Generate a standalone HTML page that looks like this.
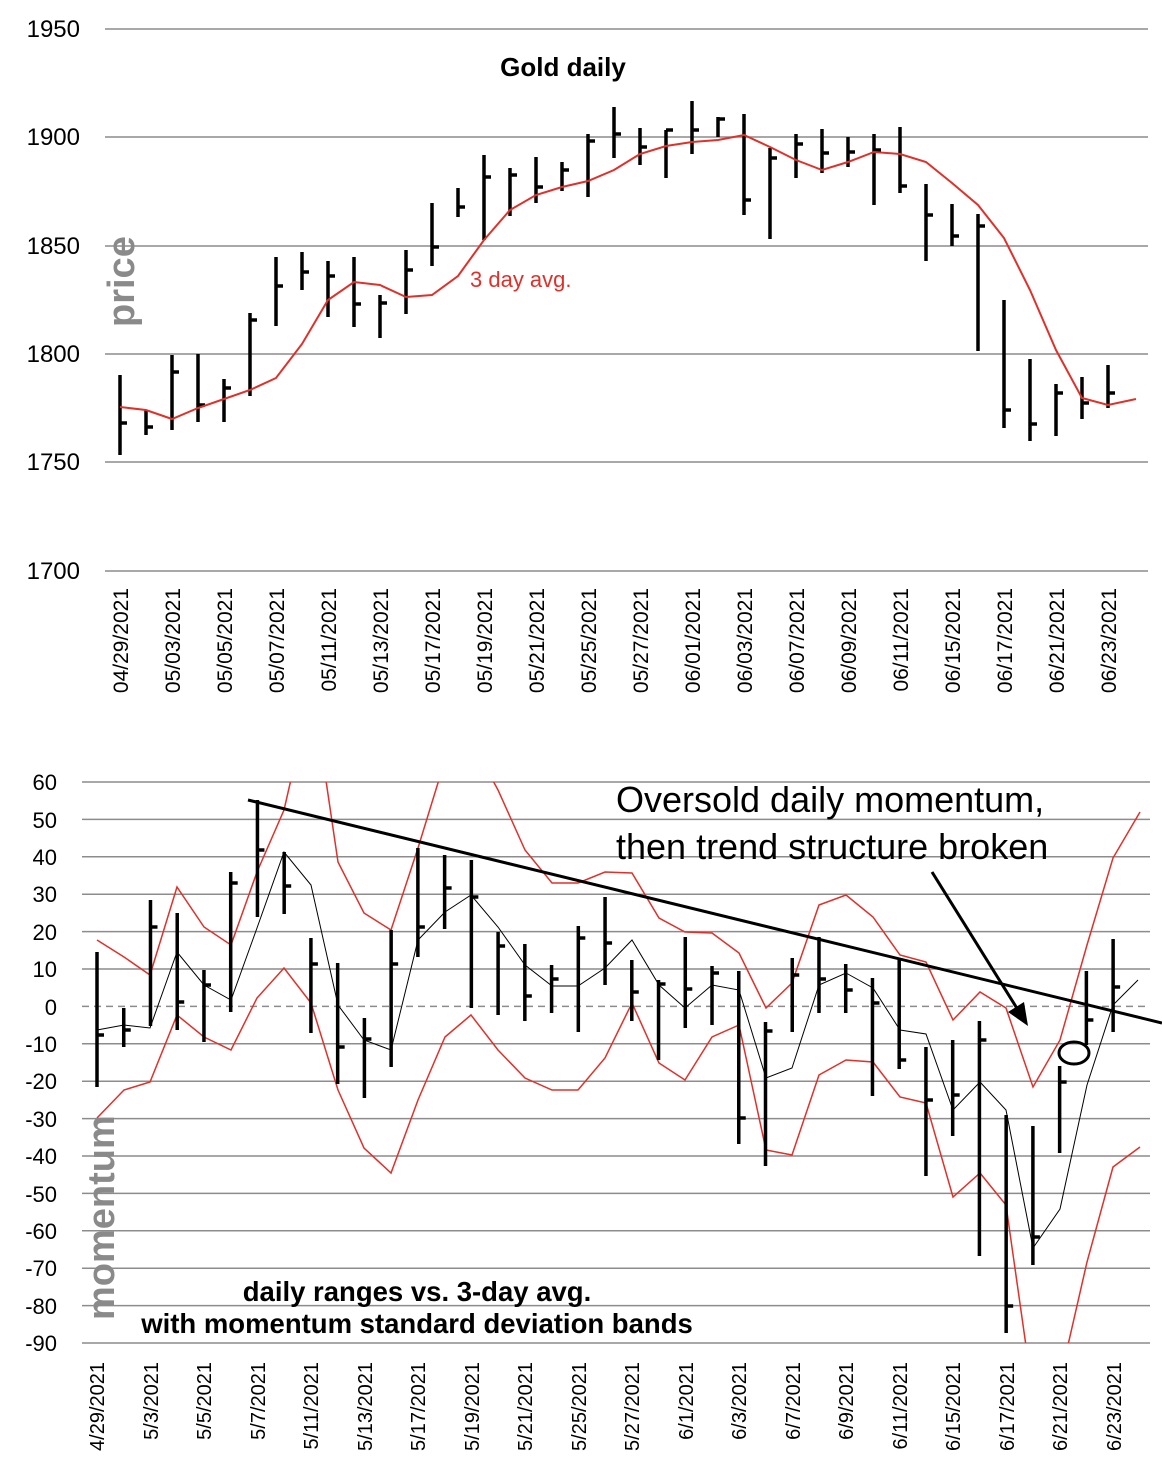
<!DOCTYPE html>
<html><head><meta charset="utf-8"><style>
html,body{margin:0;padding:0;background:#fff}
svg{display:block}
text{font-family:"Liberation Sans",Arial,sans-serif}
</style></head><body>
<svg id="s" width="1162" height="1470" viewBox="0 0 1162 1470" xmlns="http://www.w3.org/2000/svg">
<g id="grid" stroke="#8c8c8c" stroke-width="1.5"></g>
<g id="shapes"></g>
<g font-size="24" fill="#000" text-anchor="end">
<text x="80" y="37">1950</text><text x="80" y="145">1900</text><text x="80" y="254">1850</text>
<text x="80" y="362">1800</text><text x="80" y="470">1750</text><text x="80" y="579">1700</text>
</g>
<text x="563" y="76" font-size="26" font-weight="bold" text-anchor="middle">Gold daily</text>
<text x="470" y="287" font-size="22" fill="#e0302a">3 day avg.</text>
<text transform="translate(134,327) rotate(-90)" font-size="38" font-weight="bold" fill="#8a8a8a">price</text>
<g font-size="21" text-anchor="end">
<text transform="translate(128,588) rotate(-90)">04/29/2021</text>
<text transform="translate(180,588) rotate(-90)">05/03/2021</text>
<text transform="translate(232,588) rotate(-90)">05/05/2021</text>
<text transform="translate(284,588) rotate(-90)">05/07/2021</text>
<text transform="translate(336,588) rotate(-90)">05/11/2021</text>
<text transform="translate(388,588) rotate(-90)">05/13/2021</text>
<text transform="translate(440,588) rotate(-90)">05/17/2021</text>
<text transform="translate(492,588) rotate(-90)">05/19/2021</text>
<text transform="translate(544,588) rotate(-90)">05/21/2021</text>
<text transform="translate(596,588) rotate(-90)">05/25/2021</text>
<text transform="translate(648,588) rotate(-90)">05/27/2021</text>
<text transform="translate(700,588) rotate(-90)">06/01/2021</text>
<text transform="translate(752,588) rotate(-90)">06/03/2021</text>
<text transform="translate(804,588) rotate(-90)">06/07/2021</text>
<text transform="translate(856,588) rotate(-90)">06/09/2021</text>
<text transform="translate(908,588) rotate(-90)">06/11/2021</text>
<text transform="translate(960,588) rotate(-90)">06/15/2021</text>
<text transform="translate(1012,588) rotate(-90)">06/17/2021</text>
<text transform="translate(1064,588) rotate(-90)">06/21/2021</text>
<text transform="translate(1116,588) rotate(-90)">06/23/2021</text>
</g>
<g font-size="22" text-anchor="end">
<text x="57" y="790">60</text><text x="57" y="828">50</text><text x="57" y="865">40</text>
<text x="57" y="902">30</text><text x="57" y="940">20</text><text x="57" y="977">10</text>
<text x="57" y="1015">0</text><text x="57" y="1052">-10</text><text x="57" y="1089">-20</text>
<text x="57" y="1127">-30</text><text x="57" y="1164">-40</text><text x="57" y="1202">-50</text>
<text x="57" y="1239">-60</text><text x="57" y="1276">-70</text><text x="57" y="1314">-80</text>
<text x="57" y="1351">-90</text>
</g>
<text transform="translate(114,1320) rotate(-90)" font-size="38" font-weight="bold" fill="#8a8a8a">momentum</text>
<text x="417" y="1301" font-size="27.5" font-weight="bold" text-anchor="middle">daily ranges vs. 3-day avg.</text>
<text x="417" y="1333" font-size="27.5" font-weight="bold" text-anchor="middle">with momentum standard deviation bands</text>
<text x="616" y="812" font-size="36">Oversold daily momentum,</text>
<text x="616" y="859" font-size="36">then trend structure broken</text>
<g font-size="20" text-anchor="end">
<text transform="translate(104,1362) rotate(-90)">4/29/2021</text>
<text transform="translate(158,1362) rotate(-90)">5/3/2021</text>
<text transform="translate(211,1362) rotate(-90)">5/5/2021</text>
<text transform="translate(265,1362) rotate(-90)">5/7/2021</text>
<text transform="translate(318,1362) rotate(-90)">5/11/2021</text>
<text transform="translate(372,1362) rotate(-90)">5/13/2021</text>
<text transform="translate(425,1362) rotate(-90)">5/17/2021</text>
<text transform="translate(479,1362) rotate(-90)">5/19/2021</text>
<text transform="translate(532,1362) rotate(-90)">5/21/2021</text>
<text transform="translate(586,1362) rotate(-90)">5/25/2021</text>
<text transform="translate(639,1362) rotate(-90)">5/27/2021</text>
<text transform="translate(693,1362) rotate(-90)">6/1/2021</text>
<text transform="translate(746,1362) rotate(-90)">6/3/2021</text>
<text transform="translate(800,1362) rotate(-90)">6/7/2021</text>
<text transform="translate(853,1362) rotate(-90)">6/9/2021</text>
<text transform="translate(907,1362) rotate(-90)">6/11/2021</text>
<text transform="translate(960,1362) rotate(-90)">6/15/2021</text>
<text transform="translate(1014,1362) rotate(-90)">6/17/2021</text>
<text transform="translate(1067,1362) rotate(-90)">6/21/2021</text>
<text transform="translate(1121,1362) rotate(-90)">6/23/2021</text>
</g>
</svg>
<script>
(function(){
var NS="http://www.w3.org/2000/svg";
function el(p,t,a){var e=document.createElementNS(NS,t);for(var k in a)e.setAttribute(k,a[k]);p.appendChild(e);return e;}
var g=document.getElementById('grid'),s=document.getElementById('shapes');
[29,137,246,354,462,571].forEach(function(y){el(g,'line',{x1:105,x2:1148,y1:y,y2:y});});
for(var v=60;v>=-90;v-=10){var y=782+(60-v)*3.74;
 if(v===0)el(g,'line',{x1:82,x2:1150,y1:y,y2:y,'stroke-dasharray':'7,5'});
 else el(g,'line',{x1:82,x2:1150,y1:y,y2:y});}
var tp=[[375,455,423],[410,435,427],[355,430,372],[354,422,405],[379,422,388],[313,396,320],[257,326,286],[252,290,272],[261,317,276],[257,327,304],[295,338,303],[250,314,270],[203,266,247],[188,217,207],[155,240,177],[168,216,175],[157,203,187],[162,191,170],[134,197,141],[107,158,134],[128,165,147],[130,178,130],[101,154,130],[117,137,119],[114,215,200],[148,239,158],[134,178,144],[129,173,153],[137,167,152],[134,205,150],[127,193,186],[184,261,215],[204,246,236],[214,351,226],[300,428,410],[359,441,424],[384,436,393],[377,419,403],[365,408,393]];
var d='';tp.forEach(function(b,i){var x=120+26*i;d+='M'+x+' '+b[0]+'V'+b[1]+'M'+x+' '+b[2]+'H'+(x+7);});
el(s,'path',{d:d,stroke:'#000','stroke-width':3.5,fill:'none'});
var avg=[[120,407],[146,410],[172,419],[198,408],[224,399],[250,390],[276,378],[302,344],[328,300],[354,282],[380,285],[406,297],[432,295],[458,276],[484,240],[510,210],[536,195],[562,187],[588,181],[614,170],[640,154],[666,146],[692,142],[718,140],[744,135],[770,147],[796,160],[822,170],[848,162],[874,152],[900,154],[926,162],[952,183],[978,205],[1004,238],[1030,290],[1056,350],[1082,398],[1108,405],[1136,399]];
el(s,'polyline',{points:avg.join(' '),stroke:'#e0302a','stroke-width':2,fill:'none'});
var cp=el(s,'clipPath',{id:'c'});el(cp,'rect',{x:82,y:782,width:1080,height:561});
var cg=el(s,'g',{'clip-path':'url(#c)'});
var up=[[97,940],[124,957],[150,975],[177,887],[204,927],[231,945],[257,872],[284,810],[300,740],[320,740],[338,862],[364,913],[391,930],[418,848],[445,760],[471,740],[498,790],[525,850],[552,883],[578,883],[605,872],[632,873],[659,918],[685,932],[712,933],[739,953],[766,1008],[792,983],[819,905],[846,895],[873,917],[900,955],[926,962],[953,1020],[980,992],[1006,1008],[1033,1087],[1060,1040],[1087,945],[1113,858],[1140,812]];
var lo=[[97,1118],[124,1090],[150,1082],[177,1015],[204,1037],[231,1050],[257,998],[284,968],[311,1003],[338,1090],[364,1148],[391,1173],[418,1100],[445,1037],[471,1015],[498,1050],[525,1078],[552,1090],[578,1090],[605,1058],[632,1003],[659,1063],[685,1080],[712,1037],[739,1025],[766,1150],[792,1155],[819,1075],[846,1060],[873,1062],[900,1097],[926,1103],[953,1197],[980,1173],[1006,1205],[1028,1360],[1046,1430],[1068,1345],[1087,1262],[1113,1167],[1140,1147]];
el(cg,'polyline',{points:up.join(' '),stroke:'#e0302a','stroke-width':1.5,fill:'none'});
el(cg,'polyline',{points:lo.join(' '),stroke:'#e0302a','stroke-width':1.5,fill:'none'});
var mm=[[97,1030],[124,1025],[150,1028],[177,952],[204,985],[231,1000],[257,928],[284,852],[311,885],[338,1005],[364,1040],[391,1050],[418,940],[445,912],[471,895],[498,927],[525,965],[552,986],[578,986],[605,968],[632,940],[659,985],[685,1008],[712,985],[739,990],[766,1078],[792,1068],[819,985],[846,973],[873,988],[900,1030],[926,1034],[953,1110],[980,1082],[1006,1110],[1033,1248],[1060,1209],[1087,1085],[1113,1005],[1138,980]];
el(cg,'polyline',{points:mm.join(' '),stroke:'#000','stroke-width':1,fill:'none'});
var bot=[[952,1087,1035],[1008,1047,1030],[900,1026,927],[913,1030,1002],[970,1042,985],[872,1012,883],[800,917,850],[852,914,886],[938,1033,964],[963,1084,1047],[1018,1098,1039],[930,1067,964],[848,957,927],[855,929,888],[860,1008,897],[932,1015,946],[944,1021,996],[965,1013,979],[926,1032,938],[897,985,943],[960,1021,992],[980,1060,984],[937,1028,989],[966,1025,973],[971,1144,1118],[1022,1166,1031],[958,1032,975],[937,1013,979],[964,1013,990],[978,1096,1003],[960,1069,1060],[1047,1176,1100],[1040,1136,1095],[1021,1256,1040],[1115,1333,1306],[1126,1265,1237],[1066,1153,1082],[971,1045,1020],[939,1032,987]];
d='';bot.forEach(function(b,i){var x=97+26.74*i;d+='M'+x+' '+b[0]+'V'+b[1]+'M'+x+' '+b[2]+'H'+(x+7);});
el(s,'path',{d:d,stroke:'#000','stroke-width':3.5,fill:'none'});
el(s,'line',{x1:248,y1:800,x2:1162,y2:1023,stroke:'#000','stroke-width':3});
el(s,'line',{x1:932,y1:872,x2:1018,y2:1010,stroke:'#000','stroke-width':3});
el(s,'polygon',{points:'1028,1026 1008,1012 1024,1002',fill:'#000'});
el(s,'ellipse',{cx:1074,cy:1053,rx:15,ry:11,stroke:'#000','stroke-width':3,fill:'none'});
})();
</script>
</body></html>
